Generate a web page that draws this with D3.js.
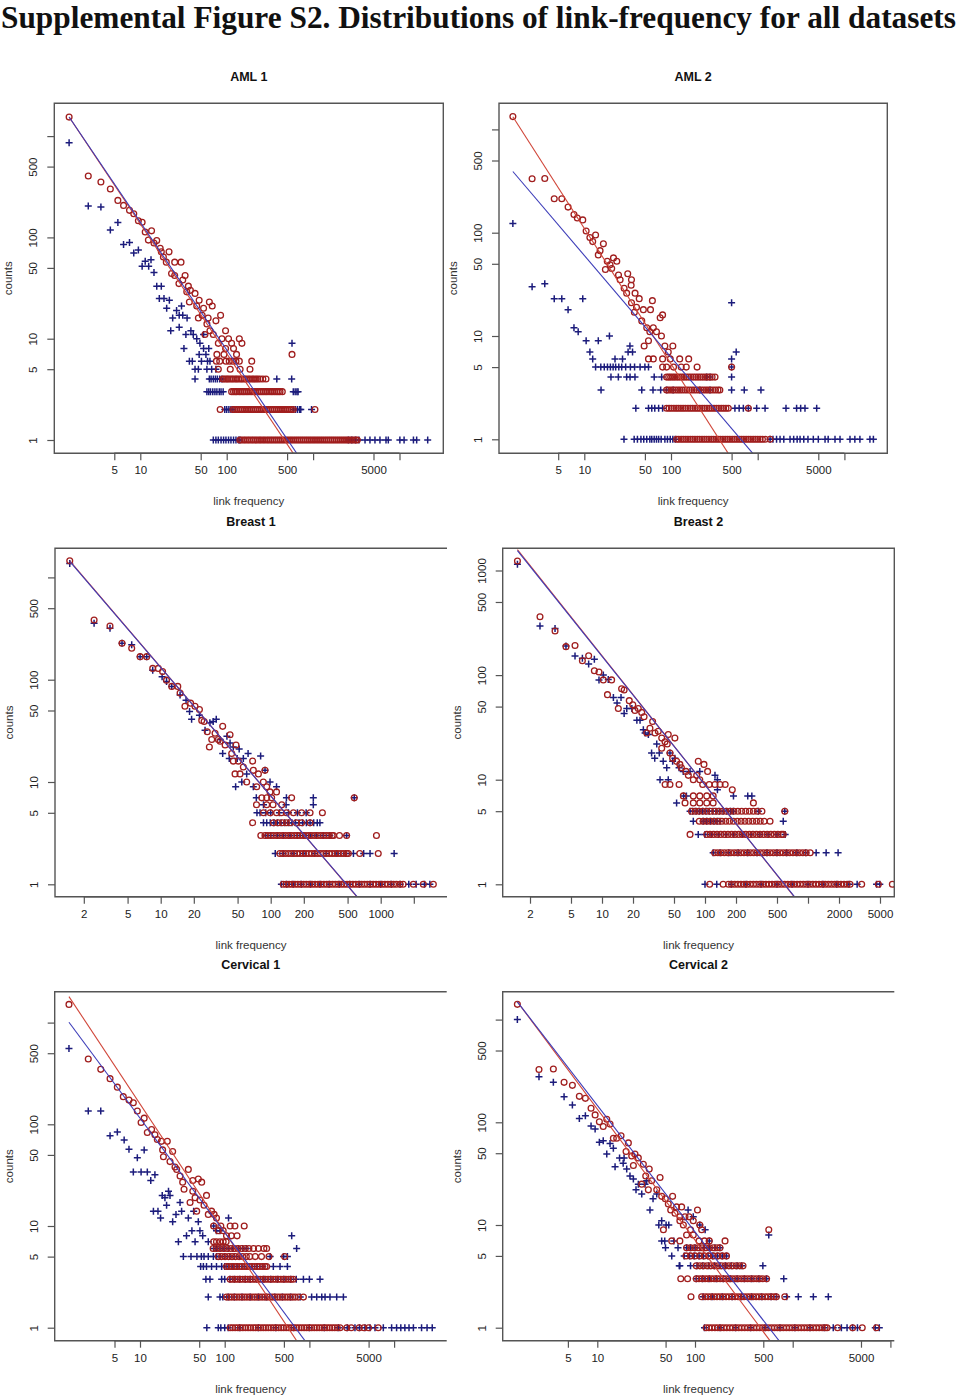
<!DOCTYPE html>
<html><head><meta charset="utf-8">
<script src="https://cdn.jsdelivr.net/npm/d3@7"></script>
<style>body{margin:0;background:#fff}svg{display:block}</style>
</head><body>
<script>
// ---------- DATA: rows are [count, linkFrequency1, linkFrequency2, ...] ----------
const aml1Red = [
 [1540,1.5],[404,2.5],[352,3.5],[300,4.5],[232,5.5],[207,6.4],[185,7.5],[171,8.4],[146,9.5],[141,10.5],[116,13.5],[113,11.4],[94,12.4],[93,15.5],[88,14.4],[78,17],[72,17.5,21.5],[64,18.5],[57,20,25,29.6],[44,23],[42,25,33],[38,31],[35,28],[33,36],[30,38],[29,34.5],[28,43],[24,48],[23,37,63],[21,45,68],[20,54],[17,52,85],[16,47,61],[15,75],[14,59],[12,64,97],[11,56,70],[10,88,105,140],[9,80,114,150],[8,97,120],[7,77,93,130,570],
 [6,76,83,98,107,117,128,140,195],
 [5,80,110,143,186],
 [4,90,94,99,103,108,114,119,126,131,138,146,152,161,168,178,186,197,206,218,229,243,262,285],
 [3,114,120,126,131,139,145,153,160,169,177,187,196,207,217,229,241,253,266,280,293,309,325,340,359,378,396,414,440],
 [2,84,118,124,131,137,145,151,160,167,177,185,195,204,216,226,239,250,264,277,292,306,323,339,357,375,395,415,437,460,484,508,535,562,590,1050],
 [1,142,149,158,165,175,183,194,203,215,225,238,249,263,276,292,306,323,339,358,376,397,417,440,462,487,512,540,567,598,629,663,697,735,773,815,857,903,949,1000,1052,1109,1167,1230,1294,1364,1435,1512,1591,1676,1764,1858,1955,2060,2169,2285,2404,2530,2664,2805,2952,3110,3250]
];
const aml1Blue = [
 [861,1.5],[204,2.5],[200,3.5],[118,4.5],[140,5.5],[85,6.4],[89,7.5],[70,8.4],[75,9.5],[52,10.5,12.5],[58,11.4],[60,13.3],[45,14.4],[33,15.5,17.5],[25,16.6,18.8],[24,21.7],[20,20.2],[19,26.3],[21,30],[17,28.2,31],[16,23.7,34.8],[13,28.2],[12,22.5,38.5],[11,33.7,41,54],[10,45],[9,49,570],[8,32,54,62],[7,48,57.5],[6,37,40,51,60,64],[5,43,47,59,67,75],
 [4,43,63,66,70,74,78,83,88,380,565],
 [3,59,62,65,69,73,77,82,86,91,590,620,650,670],
 [2,95,100,106,112,118,590,625,660,700,720,960],
 [1,70,75,80,86,92,98,105,112,120,128,137,142,2560,2800,3100,3400,3990,4550,5200,5940,6980,7420,10100,11300,14500,15800,21200]
];
const aml2Red = [
 [1330,1.5],[333,2.5],[335,3.5],[213,4.5,5.5],[177,6.5],[150,7.6],[139,8.3],[133,9.6],[104,10.5],[90,11.6],[82,12.5],[95,13.5],[67,15.2],[61,14.5],[78,16.6],[53,18.4,23.7],[44,17.5],[49,19.8],[57,21.7],[45,20.7],[39,24.8],[35,25.9,35],[40,31.7],[29,28.8],[31,34.7],[26,30.8,38.5],[23,43],[21,35],[22,61],[19,40],[18,48,58],[17,37.8],[16,80],[15,75],[14,46],[12,52.5,62.5],[11,57,68],[10,77.6],[9,55],[8,49,85,105],[7,93],
 [6,55,62.5,80,98,126,160],
 [5,80,89,107,131,150,200,500],
 [4,89,94,99,105,111,118,125,133,141,150,160,170,181,193,205,218,232,247,262,280,298,322],
 [3,89,94,100,106,113,120,127,135,144,153,163,174,185,197,210,224,238,253,268,285,305,326,348,366],
 [2,89,95,101,108,115,122,130,138,147,157,167,178,190,202,215,229,244,260,277,295,314,334,356,380,404,430,458,780],
 [1,116,123,131,139,148,157,167,178,189,201,214,228,242,258,274,292,310,330,351,373,397,422,449,478,508,540,575,612,651,692,736,783,833,886,942,1002,1066,1134,1220,1390]
];
const aml2Blue = [
 [123,1.5],[30,2.5],[32,3.5],[23,4.5,5.5,9.6],[18,6.5],[12,7.6],[11,8.5],[9,10.5,14.5],[7,11.6,32,36,565],[6,12.5,22.6,27.6,500],[8,33.6],[10,19.5],[21,500],
 [5,13.5,15.5,17,18.5,20,21.5,23,25,27,30,34,38,44,50,55,500],
 [4,20.3,24.7,30.8,33.7,38.4,64,78,258,282,500],
 [3,15.6,46,62,76,89,106,215,282,500,700,1090],
 [2,39.3,55,60,65,72,80,546,611,683,780,973,1216,2120,2810,3130,3510,4790],
 [1,28.7,37.6,41,45,48.5,52.5,57,60,64,68,72,77,85,91,98,105,112,1390,1500,1650,1810,2000,2360,2600,2850,3080,3400,3800,4380,5000,5980,6500,7790,8900,11600,13200,15100,19700,21600]
];
const breast1Red = [
 [1455,1.49],[383,2.48],[335,3.46],[227,4.45],[203,5.45],[168,6.5,7.46],[129,8.46,9.5],[120,10.4],[99,11.3],[86,12.6,14.3],[74,15],[55,16.6,20.5],[59,18.7],[51,22.5],[40,23.6],[39,24.8],[31,26.5],[26,29.1,33.4],[22,27.7],[30,31.2],[35,36.6],[25,34.7],[23,38.5,48.4],[29,42.7],[19,44.2],[16,45.7,50.8,68.5],[14,56.4],[13,69.5,88.8],[12,47.4,52.6,77.3],[10,60.5,85.7],[9,74.6,92],[8,98.6,113],[7,83,92,102,155,575],
 [6,74.3,92,105,126],
 [5,86,99,113,125,139,161,191,228,295],
 [4,68.5,106,117,128,139,150,171,191,228],
 [3,81.3,88.7,94,100,106,113,120,128,136,145,154,164,174,185,197,209,222,236,251,267,284,302,321,341,362,372,422,490,915],
 [2,121,128,136,145,154,164,174,185,197,209,222,236,251,267,284,302,321,341,362,385,409,435,462,491,508,645,950],
 [1,130,138,147,156,166,176,187,199,211,224,238,253,269,286,304,323,343,365,388,412,438,465,494,525,558,593,630,670,712,757,804,855,908,965,1026,1090,1158,1231,1308,1390,1500,1600,1980,2440,3010]
];
const breast1Blue = [
 [1370,1.49],[356,2.48],[318,3.46],[227,4.45],[219,5.45],[168,6.5,7.46],[124,8.46],[107,10.3],[96,11.3],[86,12.6],[71,15],[63,17],[49,18.3],[41,19.1,32],[45,22.5],[32,25.3],[38,28],[39,30],[26,34.7],[28,40],[19,36.6,62.3],[24,42.7],[22,45.7],[17,42,49.6,56.4],[21,51.7],[12,60.5],[9,48,69.5,113],[10,54.6,98.6],[7,74,139,244,575],[18,81],[13,88.8],
 [6,86,138,244],
 [5,75,80,90,100,120,145,175,210],
 [4,86,92,99,107,115,124,134,145,156,168,181,195,211,228,246,265,280],
 [3,90,100,115,130,150,175,200,230,260,300,345,490],
 [2,110,130,160,200,250,320,400,480,565,700,800,1325],
 [1,125,140,160,190,230,280,340,420,520,640,800,1000,1250,1500,1800,2100,2500,2800]
];
const breast2Red = [
 [1233,1.51],[361,2.5],[264,3.5],[187,4.47],[192,5.47],[137,6.45],[153,7.42],[110,8.43],[107,9.35],[90,10.3,12.4],[65,11.3],[48,14.4,22.5],[74,15.5],[72,16.4],[57,18.4],[52,19.9],[46,20.9],[44,24.3],[40,25.6],[28,27.2,32.7],[31,29.2],[36,31],[29,35.2],[25,38,51],[23,40.9],[27,44],[20,38],[22,43],[18,45.7],[16,48.5],[15,53,86],[14,57,97.7],[13,59],[12,65.4,106],[11,68.9,83],[10,77,89],
 [9,41,45.7,56,95,110,125,140,157],
 [8,184],
 [7,61.6,77,89,104,120],
 [6,64,77,89,104,120,295],
 [5,74,80,87,95,104,113,124,135,147,160,175,191,208,227,248,270,295,322,357,595],
 [4,88,96,104,113,123,134,146,159,173,189,206,224,244,266,290,316,344,375,428],
 [3,71.6,104,112,121,131,142,154,167,181,196,212,230,249,270,292,316,342,371,402,435,471,510,552,575],
 [2,124,133,143,154,166,178,192,206,222,239,257,276,297,320,344,370,398,428,461,496,534,574,618,665,715,770,828,891,960,1050],
 [1,111,150,169,181,194,208,223,239,256,275,295,316,339,364,390,418,448,481,516,553,593,636,682,731,784,841,902,967,1037,1112,1193,1279,1372,1471,1578,1692,1815,1946,2087,2238,2400,2560,3320,4820,6590]
];
const breast2Blue = [
 [1145,1.51],[294,2.5],[279,3.5],[190,4.47],[152,5.47],[145,6.45],[128,7.42],[142,8.43],[90,9.35],[100,10.3],[91,11.5],[61,12.9,15.3],[54,14],[43,16.4],[48,17.4,19.5],[37,21.8,23.4],[30,25.2],[28,26.2],[27,28.2],[18,30.3,36,45.7],[16,32.5,51],[22,34],[15,39.3,48.5],[13,42.5,56],[12,61.5,71.6,89],[10,36.6,44,132],[11,125],[8,132],[7,62,66,189,260,285],[6,53],
 [5,71.6,76,82,88,95,102,110,119,128,138,150,163,177,188,330,595],
 [4,77,96,104,113,122,131,140,575],
 [3,86,100,115,135,160,190,230,280,340,410,500,600],
 [2,120,140,170,210,260,320,400,500,620,780,950,1200,1500,1960],
 [1,100,130,180,250,350,500,700,1000,1400,1900,2500,3000,4630,4980]
];
const cervical1Red = [
 [1510,1.45],[438,2.45],[347,3.44],[281,4.43],[232,5.4],[187,6.35],[173,7.41],[163,8.34],[135,9.3],[104,10.3],[115,11.2],[83,12.2],[89,13.7],[79,15],[71,16],[68,17.9,21],[48,18.9],[56,18.5],[43,22.6],[54,24.3],[38,25.9],[36,27.1,37.2],[31,29.7],[27,31.9,53.5],[23,33.1],[22,42],[28,42],[29,48.8],[19,44.7],[18,51],[20,61],[17,39],[14,46.7,70],[16,57],[13,64,75],[12,80],
 [10,74,90,116,132,170],
 [9,84,96],
 [8,105,120,140],
 [7,74,80,88,96,104],
 [6,73,80,88,97,107,118,130,143,158,175,193,219,250,290,313],
 [5,84,92,101,111,122,134,148,163,180,198,229,272,333,510],
 [4,105,112,120,129,138,148,159,171,183,196,210,226,242,260,279,299,313],
 [3,116,124,133,142,152,163,175,187,200,215,230,247,264,283,303,325,348,373,400,429,460,493,528,566,606,645],
 [2,105,113,121,130,139,149,160,171,183,196,210,225,241,259,277,297,318,341,365,391,419,449,481,516,553,592,635,680,740,850],
 [1,116,124,133,143,153,164,176,189,202,217,232,249,267,286,306,328,352,377,404,433,464,497,533,571,612,656,703,754,808,866,928,995,1066,1143,1225,1313,1407,1508,1616,1732,1857,1990,2133,2300,2760,3120,3870,4400,4990,6500]
];
const cervical1Blue = [
 [557,1.45],[135,2.45,3.44],[77,4.43],[84,5.4],[70,6.5],[57,7.41],[47,9.3],[34,8.34,10.3,12.2],[56,11.2],[28,13.4],[32,15],[20,18.3,22.6],[19,19.7],[22,21.7],[16,20.6],[14,14.4,16.3,31,43],[12,17.5],[11,24.3,48.8],[13,26.6],[17,29.7],[7,28.4,44.7,64],[8,35.4,55,618],[9,41,51,80,88],[12,37.2,111],[10,74],
 [6,74,80,88,98,110,125,145,163,180,707],
 [5,32.5,40,47,53,57,64,73.5,80,88,100,115,130,150,344,495,550],
 [4,52,56,61,70,80,92,100,110,125,140,160,180,210,240,282,375,450,550],
 [3,60,67,92,100,115,130,150,175,200,240,290,350,420,500,600,700,850,1000,1334],
 [2,64,88,95,110,130,160,200,250,310,390,480,600,780,1063,1220,1400,1530,1750,2100,2520],
 [1,61.5,84,90,100,110,150,250,400,650,1000,1500,2200,2800,3450,3900,4530,5200,5950,7460,9350,10700,12000,13400,15000,16900,21100,24500,28200]
];
const cervical2Red = [
 [1407,1.52],[327,2.53],[330,3.55],[245,4.57],[229,5.56],[179,6.55],[171,7.55],[137,8.63],[118,9.5],[101,10.5],[91,11.5],[107,12.5],[96,13.5],[70,14.6,15.8],[74,17.5],[63,20.8],[52,19.7],[47,22.5],[49,24.3],[45,26.3],[38,23.4],[39,29.6],[35,34],[30,31.3],[25,28.5],[27,36],[29,43.9],[22,33.3,40.6],[19,45.6,59],[18,49.7],[16,53.3],[15,64.8,73],[14,56.4,106],[13,62.4],[12,70,79,87],[11,70,96],[10,76,112],[9,47.5,90,117,569],[8,82,96],[7,57.8,70,110,125,140,203],
 [6,82,90,99,108,118,129,141,154,168,180],
 [5,81,90,100,112,124,138,154,171,190,210],
 [4,103,112,122,133,145,158,172,187,204,222,242,264,287,310],
 [3,71.5,84,103,110,118,127,136,146,157,169,181,195,209,225,241,259,278,299,321,345,370,398,427,459,493,540],
 [2,91,117,127,136,146,157,168,180,194,208,223,240,257,276,297,318,342,367,394,423,454,487,523,561,602,646,680,830],
 [1,130,139,149,160,171,184,197,211,227,243,261,280,300,322,346,371,398,427,458,491,527,566,607,651,699,750,804,863,926,993,1066,1143,1227,1316,1412,1515,1626,1745,1872,2008,2150,2250,2880,4110,5150,7200]
];
const cervical2Blue = [
 [1005,1.52],[278,2.53],[245,3.55],[177,4.57],[147,5.56],[109,6.55],[116,7.55],[92,8.63],[86,9.5],[64,10.5],[66,11.5],[49,12.5],[62,13.5],[56,14.6],[37,15.2],[45,16.9,18.8],[40,18.4],[35,20],[30,21.6],[28,23.4],[22,24.9],[25,26.3,30.8],[20,28.5,40.6],[27,32],[14,34.6,85],[18,37.2],[10,42.6,50.6,53.9,112],[11,45.6],[7,45.6,49,60.7,140],[12,96],[9,127],[8,569],
 [6,49.9,67,82,90,100,112,124,140,160,180],
 [5,57.8,77.5,88,98,110,122,136,152,170,190,210],
 [4,69,70,90,105,120,138,158,180,205,235,270,300,495],
 [3,103,120,140,165,195,230,270,320,380,450,540,810],
 [2,121,150,190,240,300,380,480,600,680,867,1142,1627,2315],
 [1,125,180,260,370,520,740,1050,1500,2100,2600,3150,3600,4100,4600,7000,7700]
];
// fitted power-law lines: [log10 intercept, slope] for AML1, AML2, Breast1, Breast2, Cervical1, Cervical2
const redFits  = [[3.414,-1.28],[3.354,-1.312],[3.38,-1.258],[3.42,-1.235],[3.459,-1.259],[3.405,-1.276]];
const blueFits = [[3.41,-1.26],[2.766,-0.986],[3.375,-1.255],[3.41,-1.23],[3.185,-1.124],[3.397,-1.232]];
const titles = ["AML 1","AML 2","Breast 1","Breast 2","Cervical 1","Cervical 2"];
const xTicksA = [5,10,50,100,500,1000,5000,10000];
const xLabelsA = ["5","10","50","100","500","","5000",""];
const xTicksB1 = [2,5,10,20,50,100,200,500,1000,2000];
const xLabelsB1 = ["2","5","10","20","50","100","200","500","1000",""];
const xTicksB2 = [2,5,10,20,50,100,200,500,1000,2000,5000];
const xLabelsB2 = ["2","5","10","20","50","100","200","500","","2000","5000"];
const yTicks = [1,5,10,50,100,500,1000];
const yLabels = ["1","5","10","50","100","500",""];
const yLabelsB2 = ["1","5","10","50","100","500","1000"];

// ---------- LAYOUT ----------
// box [left, top, right, bottom]; cal [px of x=1, px per decade x, px of y=1, px per decade y]
const layout = [
 {box:[54.3,103.3,443.3,453.3], cal:[53.9,86.4,440,101.3], right:true,  xt:xTicksA,  xl:xLabelsA,  yl:yLabels},
 {box:[499,103.3,887.3,453.3],  cal:[497.6,86.7,439.3,103.3], right:true, xt:xTicksA, xl:xLabelsA, yl:yLabels},
 {box:[55,548.3,447,896.7],     cal:[50.7,110,884.3,102.3], right:false, xt:xTicksB1, xl:xLabelsB1, yl:yLabels},
 {box:[502.7,548.3,894.3,896.7],cal:[499,103,884.3,104.6], right:true,  xt:xTicksB2, xl:xLabelsB2, yl:yLabelsB2},
 {box:[54.7,991.7,446.7,1340.7],cal:[55.3,84.7,1327.7,101.7], right:false, xt:xTicksA, xl:xLabelsA, yl:yLabels},
 {box:[502.7,991.7,894.3,1340.7],cal:[499.6,97.7,1327.7,102.7], right:false, xt:xTicksA, xl:xLabelsA, yl:yLabels}
];
const redSets = [aml1Red, aml2Red, breast1Red, breast2Red, cervical1Red, cervical2Red];
const blueSets = [aml1Blue, aml2Blue, breast1Blue, breast2Blue, cervical1Blue, cervical2Blue];

const RED = "#a01e1e", BLUE = "#1c1c7c", RLINE = "#d04538", BLINE = "#3c3cb8";
const FONT = "'Liberation Sans', Arial, Helvetica, sans-serif";

const svg = d3.select("body").append("svg").attr("width",960).attr("height",1395)
  .style("background","#fff");

svg.append("text").attr("x",1).attr("y",28)
  .attr("font-family","'Liberation Serif','Times New Roman',serif").attr("font-weight","bold")
  .attr("font-size",31).attr("textLength",955).attr("lengthAdjust","spacingAndGlyphs")
  .attr("fill","#111")
  .text("Supplemental Figure S2. Distributions of link-frequency for all datasets");

function flatten(rows){
  const out=[];
  rows.forEach(r=>{ for(let i=1;i<r.length;i++) out.push([r[i],r[0]]); });
  return out;
}

layout.forEach((L,i)=>{
  const [l,t,r,b] = L.box, [x0,xd,y0,yd] = L.cal;
  const x = d3.scaleLog().domain([10**((l-x0)/xd), 10**((r-x0)/xd)]).range([l,r]);
  const y = d3.scaleLog().domain([10**((y0-b)/yd), 10**((y0-t)/yd)]).range([b,t]);
  const g = svg.append("g");
  const cid = "clip"+i;
  svg.append("clipPath").attr("id",cid).append("rect").attr("x",l).attr("y",t).attr("width",r-l).attr("height",b-t);

  const red = flatten(redSets[i]), blue = flatten(blueSets[i]);
  const pg = g.append("g").attr("clip-path",`url(#${cid})`);

  // blue pluses
  pg.append("g").selectAll("path").data(blue).join("path")
    .attr("transform",d=>`translate(${x(d[0])},${y(d[1])})`)
    .attr("d","M-3.5,0H3.5M0,-3.5V3.5")
    .attr("stroke",BLUE).attr("stroke-width",1.5).attr("fill","none");
  // red circles
  pg.append("g").selectAll("circle").data(red).join("circle")
    .attr("cx",d=>x(d[0])).attr("cy",d=>y(d[1])).attr("r",2.9)
    .attr("fill","none").attr("stroke",RED).attr("stroke-width",1.3);

  // fitted lines
  const xmin = red[0][0], xmax = x.domain()[1];
  [[redFits[i],RLINE],[blueFits[i],BLINE]].forEach(([f,c])=>{
    const pts = [xmin,xmax].map(v=>[x(v), y(10**(f[0]+f[1]*Math.log10(v)))]);
    pg.append("path").attr("d",d3.line()(pts)).attr("stroke",c).attr("stroke-width",1.1).attr("fill","none");
  });

  // box
  const boxPath = L.right ? `M${l},${t}H${r}V${b}H${l}Z` : `M${r},${t}H${l}V${b}H${r}`;
  g.append("path").attr("d",boxPath).attr("fill","none").attr("stroke","#555").attr("stroke-width",1.4);

  // x axis
  const xa = g.append("g").attr("transform",`translate(0,${b})`)
    .call(d3.axisBottom(x).tickValues(L.xt).tickFormat((d,k)=>L.xl[k]).tickSize(7).tickPadding(6));
  xa.select(".domain").remove();
  xa.append("path").attr("d",`M${x(L.xt[0])},0H${x(L.xt[L.xt.length-1])}`).attr("stroke","#555").attr("stroke-width",1.4);
  xa.selectAll(".tick line").attr("stroke","#555").attr("stroke-width",1.2);
  xa.selectAll(".tick text").attr("font-family",FONT).attr("font-size",11.5).attr("fill","#222");

  // y axis
  const ya = g.append("g").attr("transform",`translate(${l},0)`)
    .call(d3.axisLeft(y).tickValues(yTicks).tickFormat((d,k)=>L.yl[k]).tickSize(7));
  ya.select(".domain").remove();
  ya.selectAll(".tick line").attr("stroke","#555").attr("stroke-width",1.2);
  ya.selectAll(".tick text").attr("font-family",FONT).attr("font-size",11.5).attr("fill","#222")
    .attr("x",0).attr("dy",null).attr("text-anchor","middle")
    .attr("transform","translate(-17,0) rotate(-90)");

  // labels
  const cx = (l+r)/2, cy = (t+b)/2;
  g.append("text").attr("x",cx).attr("y",t-27).attr("dy","0.35em").attr("text-anchor","middle")
    .attr("font-family",FONT).attr("font-weight","bold").attr("font-size",12.5).attr("fill","#111").text(titles[i]);
  g.append("text").attr("x",cx).attr("y",b+48).attr("dy","0.35em").attr("text-anchor","middle")
    .attr("font-family",FONT).attr("font-size",11.5).attr("fill","#333").text("link frequency");
  g.append("text").attr("transform",`translate(${l-46},${cy}) rotate(-90)`).attr("dy","0.35em").attr("text-anchor","middle")
    .attr("font-family",FONT).attr("font-size",11.5).attr("fill","#333").text("counts");
});
</script>
</body></html>
